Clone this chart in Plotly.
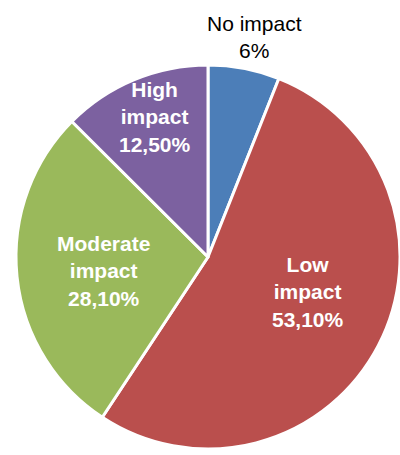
import math
import plotly.graph_objects as go

labels = ["No impact", "Low impact", "Moderate impact", "High impact"]
values = [6.0, 53.1, 28.1, 12.5]
colors = ["#4C7EB8", "#BA4F4D", "#9AB95B", "#7C61A0"]
positions = ["outside", "inside", "inside", "inside"]
label_radius = [1.17, 0.55, 0.55, 0.78]    # style: radial placement (fraction of radius)
label_shift = [1.0, -8.0, -2.0, 2.0]       # style: angular nudge of label (degrees)


def fmt(v):
    if float(v).is_integer():
        return f"{int(v)}%"
    return f"{v:.2f}".replace(".", ",") + "%"


W, H = 400, 455
# pie domain in pixels (left, right, top, bottom)
px_l, px_r, px_t, px_b = 16, 400, 65, 449
cx = (px_l + px_r) / 2
cy = (px_t + px_b) / 2
R = min(px_r - px_l, px_b - px_t) / 2

fig = go.Figure(
    go.Pie(
        labels=labels,
        values=values,
        textinfo="none",
        sort=False,
        direction="clockwise",
        rotation=0,
        marker=dict(colors=colors, line=dict(color="white", width=3)),
        domain=dict(x=[px_l / W, px_r / W], y=[(H - px_b) / H, (H - px_t) / H]),
        showlegend=False,
        hoverinfo="label+value",
    )
)

total = sum(values)
cum = 0.0
for lab, v, pos, fr, sh in zip(labels, values, positions, label_radius, label_shift):
    mid = (cum + v / 2) / total * 2 * math.pi + math.radians(sh)
    cum += v
    x = cx + fr * R * math.sin(mid)
    y = cy - fr * R * math.cos(mid)
    if pos == "outside":
        txt = f"{lab}<br>{fmt(v)}"
        font = dict(color="black", size=21, family="Arial, Liberation Sans")
    else:
        parts = lab.split(" ", 1)
        txt = "<b>" + "<br>".join(parts) + "<br>" + fmt(v) + "</b>"
        font = dict(color="white", size=21, family="Arial, Liberation Sans")
    fig.add_annotation(
        x=x / W, y=1 - y / H, xref="paper", yref="paper",
        text=txt, showarrow=False, xanchor="center", yanchor="middle",
        align="center", font=font,
    )

fig.update_layout(
    width=W,
    height=H,
    margin=dict(l=0, r=0, t=0, b=0),
    paper_bgcolor="white",
    plot_bgcolor="white",
    showlegend=False,
)
fig.write_html("out.html")
